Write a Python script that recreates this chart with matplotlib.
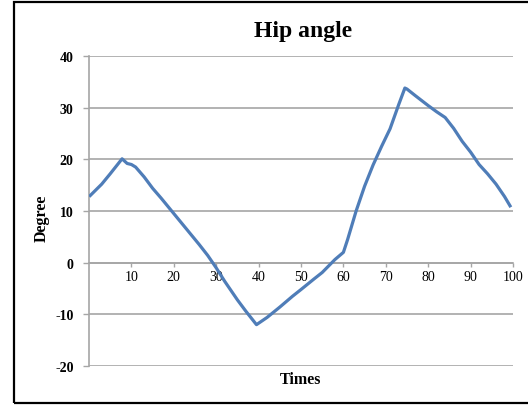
import matplotlib
matplotlib.use("Agg")
import matplotlib.pyplot as plt
from matplotlib.patches import Rectangle

# Data
times = [0.3, 3, 5, 7.8, 9, 10, 11, 13, 15, 17, 20, 23, 26, 28, 30, 32, 35, 37, 39.5,
         42, 45, 48, 50, 53, 55, 58, 60, 61, 63, 65, 67, 69, 71, 73, 74.5, 75, 77,
         80, 82, 84, 86, 88, 90, 92, 94, 96, 98, 99.3]
degree = [13.0, 15.2, 17.2, 20.1, 19.2, 19.0, 18.5, 16.6, 14.4, 12.5, 9.5, 6.5, 3.5, 1.4,
          -1.0, -3.6, -7.2, -9.4, -12.0, -10.6, -8.6, -6.5, -5.2, -3.2, -1.9, 0.6, 2.0,
          4.5, 10.0, 14.8, 18.9, 22.5, 25.9, 30.5, 33.8, 33.6, 32.3, 30.4, 29.2, 28.1,
          26.0, 23.5, 21.4, 19.0, 17.2, 15.2, 12.8, 11.0]
x_ticks = [10, 20, 30, 40, 50, 60, 70, 80, 90, 100]
y_ticks = [-20, -10, 0, 10, 20, 30, 40]

plt.rcParams['font.family'] = ['Liberation Serif', 'DejaVu Serif']

fig = plt.figure(figsize=(5.28, 4.06), dpi=100)
ax = fig.add_axes([89/528, 1-367/406, (513-89)/528, (367-57)/406])

ax.plot(times, degree, color='#4F7DB8', lw=2.3, solid_joinstyle='round', zorder=3)

ax.set_xlim(0, 100)
ax.set_ylim(-20, 40)
ax.set_yticks(y_ticks)
ax.set_xticks(x_ticks)
ax.set_yticklabels([str(v) for v in y_ticks], fontweight='bold', fontsize=10)
ax.set_xticklabels([str(v) for v in x_ticks], fontsize=9, color='#404040')

ax.grid(axis='y', color='#a6a6a6', lw=1.2)
ax.grid(axis='x', visible=False)
for s in ['top', 'right']:
    ax.spines[s].set_visible(False)
ax.spines['bottom'].set_position(('data', 0))
ax.spines['bottom'].set_color('#a6a6a6')
ax.spines['bottom'].set_linewidth(1.2)
ax.spines['left'].set_color('#a6a6a6')
ax.spines['left'].set_linewidth(1.2)
ax.tick_params(axis='y', length=4, color='#a6a6a6', width=1, pad=7)
ax.tick_params(axis='x', length=3, color='#a6a6a6', width=1, pad=2, direction='out')

fig.text(303/528, 1-32/406, 'Hip angle', ha='center', va='center',
         fontsize=17, fontweight='bold')
fig.text(42/528, 1-218/406, 'Degree', ha='center', va='center', rotation=90,
         fontsize=11.5, fontweight='bold')
fig.text(301/528, 1-380/406, 'Times', ha='center', va='center',
         fontsize=11.5, fontweight='bold')

fig.patches.append(Rectangle((14/528, 1-404/406), (528-14)/528 + 0.01, (404-3)/406,
                             transform=fig.transFigure, fill=False,
                             edgecolor='black', lw=1.6))

fig.savefig('out.png', dpi=100)
